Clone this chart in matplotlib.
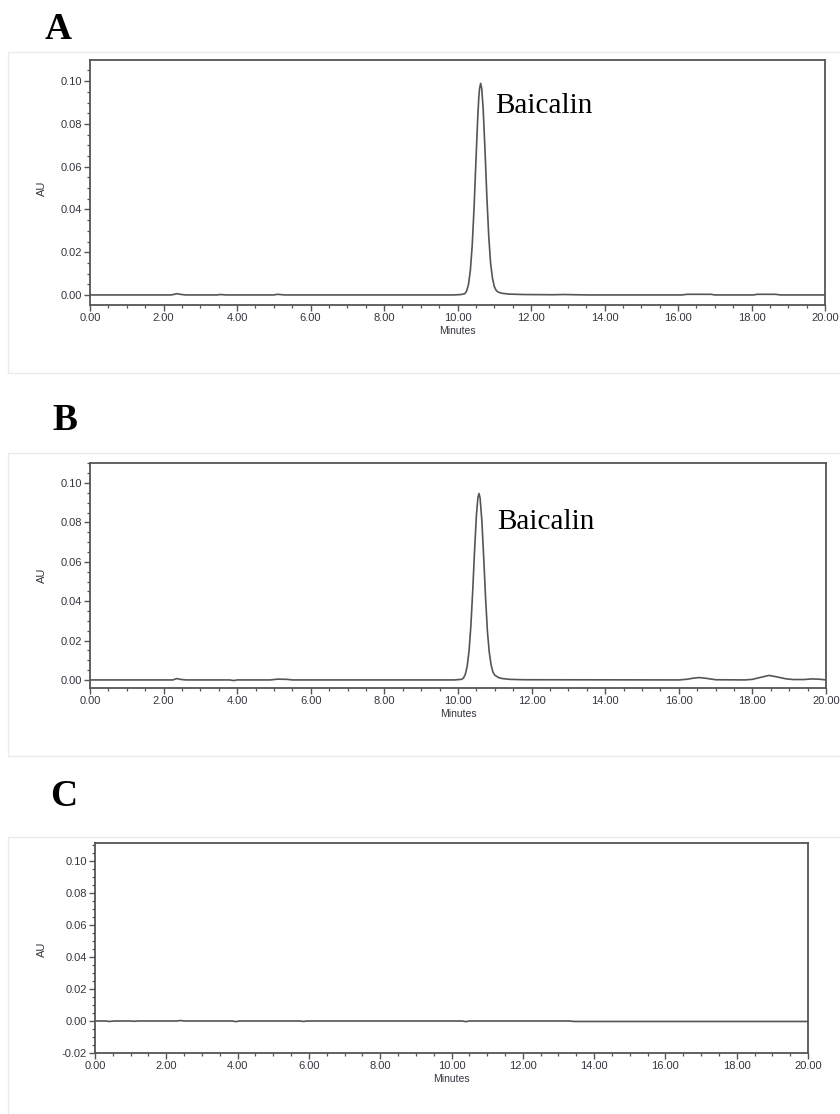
import matplotlib
matplotlib.use("Agg")
import matplotlib.pyplot as plt
from matplotlib.patches import Rectangle
from matplotlib.ticker import MultipleLocator, FormatStrFormatter

W, H = 840, 1114

# chromatogram traces (retention time in minutes, absorbance in AU)
time_a = [0.00, 2.20, 2.30, 2.36, 2.45, 2.60, 3.45, 3.55, 3.70, 5.00, 5.10, 5.30,
          9.90, 10.10, 10.20, 10.25, 10.30, 10.35, 10.40, 10.45, 10.50, 10.55, 10.58,
          10.60, 10.63, 10.66, 10.70, 10.75, 10.80, 10.85, 10.90, 10.95, 11.00, 11.05,
          11.10, 11.20, 11.40, 11.80, 12.60, 12.90, 13.20, 13.60, 16.10, 16.25, 16.90,
          17.00, 18.05, 18.15, 18.65, 18.80, 20.00]
au_a = [0.0000, 0.0000, 0.0003, 0.0006, 0.0003, 0.0000, 0.0000, 0.0002, 0.0000, 0.0000,
        0.0003, 0.0000, 0.0000, 0.0002, 0.0006, 0.0019, 0.0050, 0.0115, 0.0231, 0.0405,
        0.0620, 0.0827, 0.0925, 0.0965, 0.0990, 0.0965, 0.0865, 0.0670, 0.0455, 0.0275,
        0.0150, 0.0080, 0.0040, 0.0022, 0.0014, 0.0008, 0.0004, 0.0002, 0.0001, 0.0002,
        0.0001, 0.0000, 0.0000, 0.0003, 0.0003, 0.0000, 0.0000, 0.0003, 0.0003, 0.0000,
        0.0000]

time_b = [0.00, 2.25, 2.36, 2.45, 2.60, 3.80, 3.90, 4.00, 4.90, 5.10, 5.35, 5.50,
          9.90, 10.10, 10.15, 10.20, 10.25, 10.30, 10.35, 10.40, 10.45, 10.50, 10.54,
          10.57, 10.60, 10.65, 10.70, 10.75, 10.80, 10.85, 10.90, 10.95, 11.00, 11.10,
          11.20, 11.40, 11.80, 16.00, 16.20, 16.40, 16.55, 16.75, 17.00, 17.80, 18.00,
          18.20, 18.45, 18.65, 18.90, 19.10, 19.40, 19.60, 19.80, 20.00]
au_b = [0.0000, 0.0000, 0.0007, 0.0003, 0.0000, 0.0000, -0.0003, 0.0000, 0.0000, 0.0004,
        0.0003, 0.0000, 0.0000, 0.0003, 0.0010, 0.0029, 0.0070, 0.0147, 0.0275, 0.0453,
        0.0656, 0.0836, 0.0925, 0.0947, 0.0925, 0.0804, 0.0615, 0.0414, 0.0245, 0.0140,
        0.0075, 0.0040, 0.0024, 0.0012, 0.0007, 0.0003, 0.0001, 0.0000, 0.0003, 0.0009,
        0.0012, 0.0008, 0.0001, 0.0000, 0.0003, 0.0012, 0.0023, 0.0016, 0.0006, 0.0002,
        0.0002, 0.0005, 0.0004, 0.0000]

time_c = [0.00, 0.30, 0.40, 0.55, 1.00, 1.10, 1.20, 2.30, 2.40, 2.50, 3.85, 3.95,
          4.05, 5.75, 5.85, 5.95, 10.30, 10.40, 10.50, 13.30, 13.45, 20.00]
au_c = [0.0000, 0.0000, -0.0003, 0.0000, 0.0000, -0.0002, 0.0000, 0.0000, 0.0003, 0.0000,
        0.0000, -0.0004, 0.0000, 0.0000, -0.0003, 0.0000, 0.0000, -0.0004, 0.0000,
        0.0000, -0.0003, -0.0003]

panel_letters = ["A", "B", "C"]
peak_label = "Baicalin"
x_ticks = [0, 2, 4, 6, 8, 10, 12, 14, 16, 18, 20]

# layout in pixels: axes (left, top, right, bottom), frame top/bottom, letter pos, y range
panels = [
    dict(t=time_a, y=au_a, ax=(90, 60, 825, 305), frame=(52, 373), letter=(45, 39),
         ylim=(-0.0047, 0.1099), label=(11.02, 0.0851), au_y=0.477),
    dict(t=time_b, y=au_b, ax=(90, 463, 826, 688), frame=(453, 756), letter=(52, 430),
         ylim=(-0.0041, 0.1102), label=(11.06, 0.0767), au_y=0.50),
    dict(t=time_c, y=au_c, ax=(95, 843, 808, 1053), frame=(837, 1125), letter=(50, 806),
         ylim=(-0.020, 0.1112), label=None, au_y=0.495),
]

line_col = "#555555"
text_col = "#353540"
sans = "Liberation Sans"
serif = "Liberation Serif"

fig = plt.figure(figsize=(W / 100, H / 100), dpi=100)

for letter, p in zip(panel_letters, panels):
    ft, fb = p["frame"]
    fig.patches.append(Rectangle((8 / W, 1 - fb / H), 840 / W, (fb - ft) / H,
                                 transform=fig.transFigure, fill=False,
                                 edgecolor="#ebebeb", linewidth=1.0))
    lx, ly = p["letter"]
    fig.text(lx / W, 1 - ly / H, letter, fontfamily=serif, fontweight="bold",
             fontsize=27, ha="left", va="baseline", color="black")

    l, t, r, b = p["ax"]
    ax = fig.add_axes([l / W, 1 - b / H, (r - l) / W, (b - t) / H])
    ax.plot(p["t"], p["y"], color=line_col, linewidth=1.2)
    ax.set_xlim(0, 20)
    ax.set_ylim(*p["ylim"])
    ax.set_xticks(x_ticks)
    ax.xaxis.set_minor_locator(MultipleLocator(0.5))
    ax.yaxis.set_major_locator(MultipleLocator(0.02))
    ax.yaxis.set_minor_locator(MultipleLocator(0.005))
    ax.xaxis.set_major_formatter(FormatStrFormatter("%.2f"))
    ax.yaxis.set_major_formatter(FormatStrFormatter("%.2f"))
    ax.tick_params(which="major", direction="out", length=4, width=1,
                   color=line_col, labelsize=8, labelcolor=text_col, pad=2)
    ax.tick_params(which="minor", direction="out", length=2.2, width=0.9, color=line_col)
    for lab in ax.get_xticklabels() + ax.get_yticklabels():
        lab.set_fontfamily(sans)
    for s in ax.spines.values():
        s.set_color(line_col)
        s.set_linewidth(1.3)

    ax.set_xlabel("Minutes", fontfamily=sans, fontsize=7.5, color=text_col, labelpad=2)
    ax.set_ylabel("AU", fontfamily=sans, fontsize=8, color=text_col)
    ax.yaxis.set_label_coords((47 - l) / (r - l), p["au_y"])

    if p["label"] is not None:
        ax.text(p["label"][0], p["label"][1], peak_label, fontfamily=serif,
                fontsize=21, ha="left", va="baseline", color="black")

fig.savefig("out.png", dpi=100)
